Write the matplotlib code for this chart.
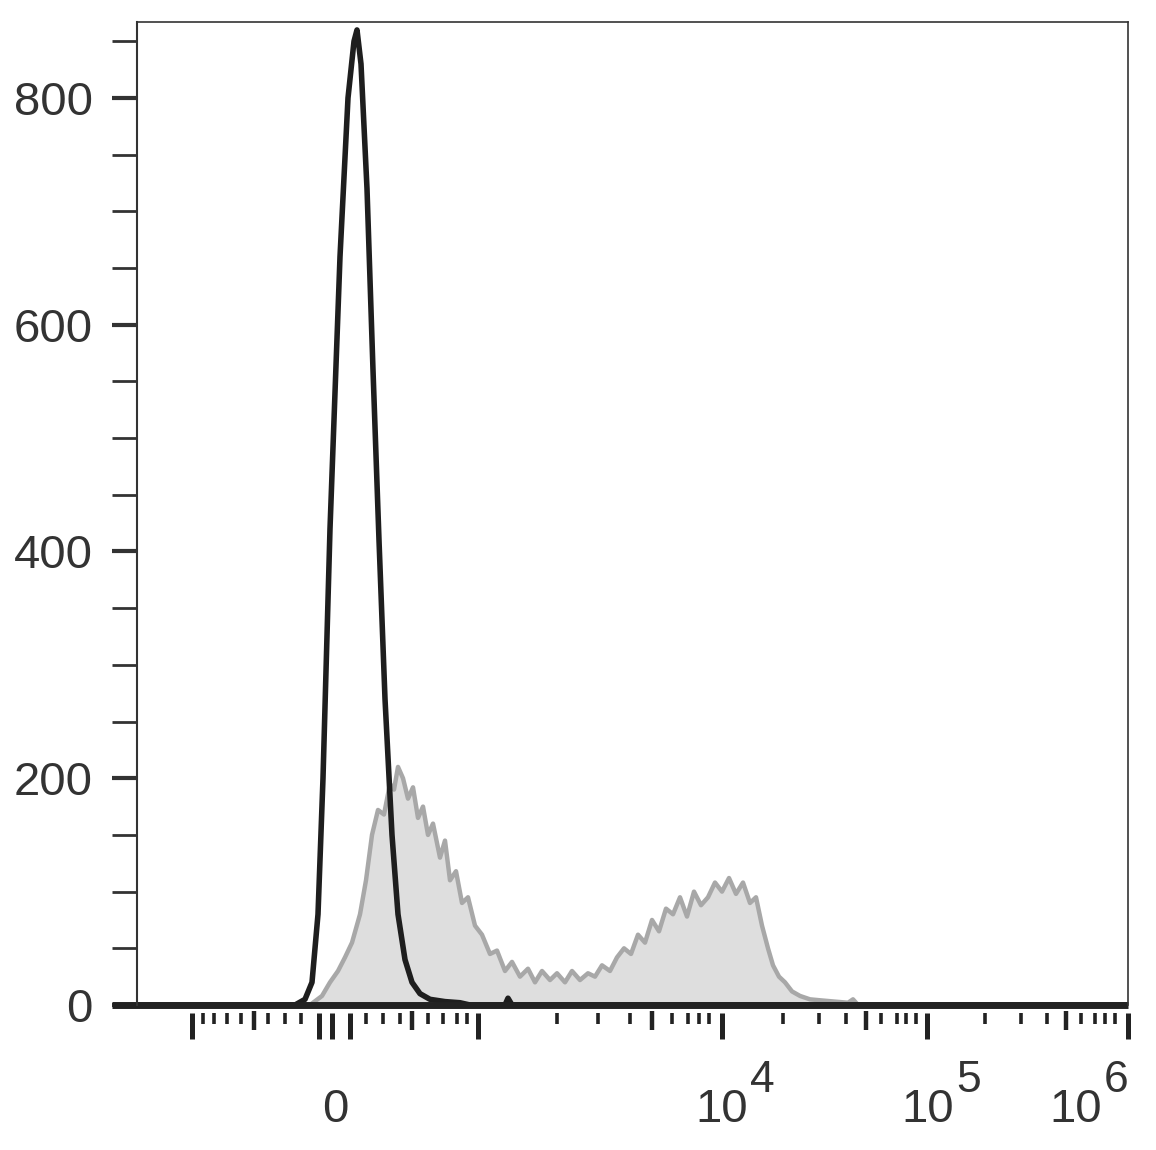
import matplotlib.pyplot as plt
import matplotlib.transforms as mtransforms

plt.rcParams["font.family"] = ["Liberation Sans", "DejaVu Sans"]

# Display channel (biexponential axis, 137..1128) vs. cell count
black_x = [137, 295, 305, 312, 318, 323, 330, 340, 348, 354, 357, 361, 367, 373, 379, 385, 392,
           398, 405, 412, 420, 430, 445, 460, 470, 505, 508, 512, 1128]
black_y = [0, 0, 5, 20, 80, 200, 420, 660, 800, 850, 860, 830, 720, 560, 410, 270, 150,
           80, 40, 20, 10, 5, 3, 2, 0, 0, 6, 0, 0]

gray_x = [137, 310, 322, 330, 338, 345, 352, 360, 366, 372, 378, 384, 390, 394, 398, 403,
          408, 413, 418, 423, 428, 433, 440, 445, 450, 456, 462, 468, 475, 482, 490,
          497, 505, 512, 520, 528, 535, 542, 550, 557, 565, 572, 580, 588, 595, 602,
          610, 617, 624, 631, 638, 645, 652, 659, 666, 673, 680, 687, 694, 701, 708,
          715, 722, 729, 736, 743, 750, 756, 762, 768, 773, 779, 785, 792, 800, 810,
          822, 835, 848, 853, 858, 1128]
gray_y = [0, 0, 8, 20, 30, 42, 55, 80, 110, 150, 172, 168, 195, 190, 210, 200,
          182, 192, 165, 175, 150, 160, 130, 145, 110, 118, 90, 95, 70, 62, 45,
          48, 30, 38, 25, 32, 20, 30, 22, 28, 20, 30, 22, 28, 25, 35,
          30, 42, 50, 45, 62, 55, 75, 65, 85, 80, 95, 78, 100, 88, 95,
          108, 100, 112, 98, 108, 90, 95, 70, 50, 35, 25, 20, 12, 8, 5,
          4, 3, 2, 5, 0, 0]

long_ticks = [192, 319, 332, 350, 478, 722, 927, 1128]
medium_ticks = [254, 412, 652, 866, 1066]
short_ticks = [203, 214, 227, 241, 268, 285, 301, 366, 383, 400, 428, 443, 457, 467,
               557, 598, 630, 672, 688, 699, 709, 783, 819, 846, 881, 897, 906, 916,
               985, 1021, 1047, 1081, 1095, 1105, 1115]
x_labels = [(335, "0", ""), (722, "10", "4"), (928, "10", "5"), (1076, "10", "6")]

fig = plt.figure(figsize=(11.56, 11.5), dpi=100)
ax = fig.add_axes([137 / 1156, 145 / 1150, 991 / 1156, 983 / 1150])

ax.fill_between(gray_x, gray_y, color="#dedede", lw=0)
ax.plot(gray_x, gray_y, color="#a8a8a8", lw=3.2)
ax.plot(black_x, black_y, color="#1e1e1e", lw=4)

ax.set_xlim(137, 1128)
ax.set_ylim(0, 867)

for s in ["left", "right", "top"]:
    ax.spines[s].set_color("#333333")
    ax.spines[s].set_linewidth(1.2)
ax.spines["left"].set_linewidth(1.5)
ax.spines["bottom"].set_position(("outward", 6))
ax.spines["bottom"].set_visible(False)

# thick baseline extending left past the axis
ax.plot([112, 1128], [0, 0], color="#222222", lw=5, clip_on=False, solid_capstyle="butt")

ax.set_yticks([0, 200, 400, 600, 800])
ax.set_yticks(range(50, 867, 50), minor=True)
ax.tick_params(axis="y", which="major", length=18, width=3, color="#333333",
               labelsize=34, labelcolor="#333333", pad=14)
ax.tick_params(axis="y", which="minor", length=18, width=2, color="#333333")

ax.set_xticks(long_ticks)
ax.set_xticklabels([])
ax.set_xticks(short_ticks, minor=True)
ax.tick_params(axis="x", which="major", length=19, width=3.6, color="#222222")
ax.tick_params(axis="x", which="minor", length=8, width=2.6, color="#222222")

trans = mtransforms.blended_transform_factory(ax.transData, ax.transAxes)
y0 = -6 / 983
for x in medium_ticks:
    ax.plot([x, x], [y0, y0 - 19 / 983], color="#222222", lw=3.2, transform=trans,
            clip_on=False, solid_capstyle="butt")

for x, base, sup in x_labels:
    ax.text(x, -105 / 983, base, transform=trans, ha="center", va="center",
            fontsize=34, color="#333333")
    if sup:
        ax.text(x + 28, -75 / 983, sup, transform=trans, ha="left", va="center",
                fontsize=32, color="#333333")

fig.savefig("out.png", dpi=100)
